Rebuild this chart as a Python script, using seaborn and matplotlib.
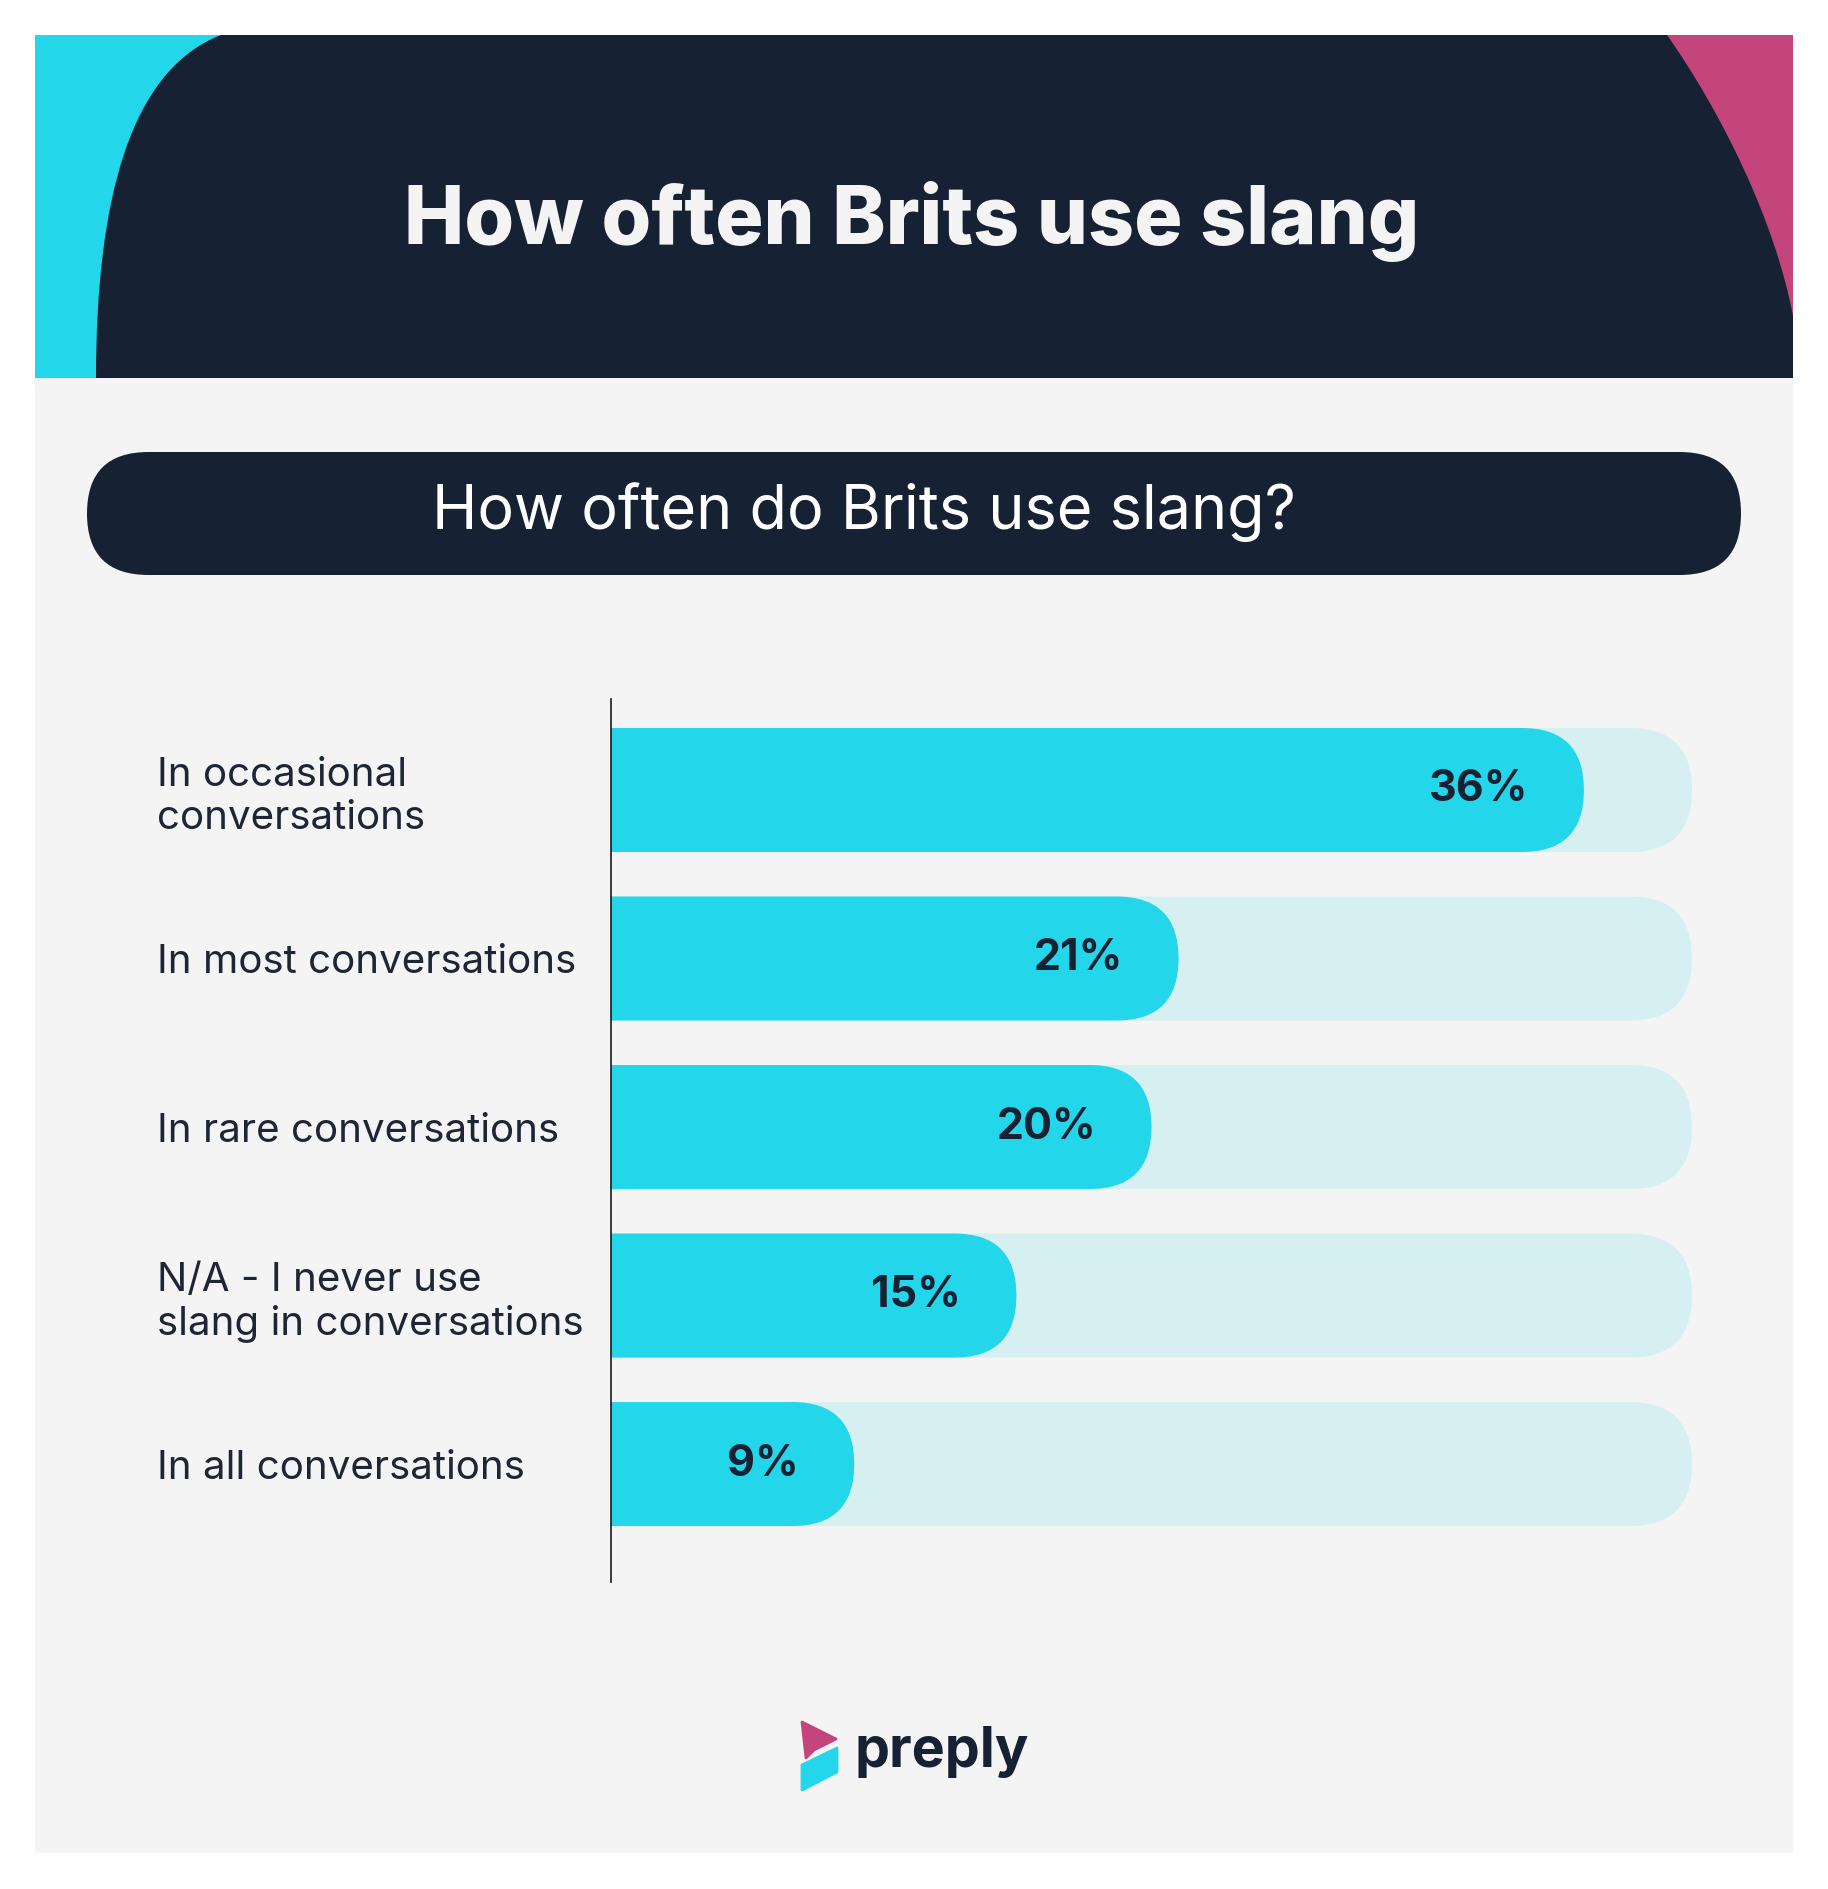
import numpy as np
import pandas as pd
import matplotlib
matplotlib.use("Agg")
import matplotlib.pyplot as plt
import seaborn as sns
from matplotlib.patches import FancyBboxPatch, Rectangle, PathPatch, Polygon
from matplotlib.path import Path

# ---------------- data ----------------
categories = [
    "In occasional\nconversations",
    "In most conversations",
    "In rare conversations",
    "N/A - I never use\nslang in conversations",
    "In all conversations",
]
values = [36, 21, 20, 15, 9]
value_labels = ["36%", "21%", "20%", "15%", "9%"]
track_max = 40

title = "How often Brits use slang"
subtitle = "How often do Brits use slang?"
brand = "preply"

# ---------------- style ----------------
NAVY = "#162133"
CYAN = "#24D6EA"
PINK = "#C4457C"
TRACK = "#D6F0F2"
CARD = "#F4F4F4"

sns.set_theme(style="white")
plt.rcParams["font.family"] = ["Inter", "DejaVu Sans"]

W, H = 1828, 1889
fig = plt.figure(figsize=(W / 100, H / 100), dpi=100)
fig.patch.set_facecolor("white")

# background / decoration axes in pixel coordinates
bg = fig.add_axes([0, 0, 1, 1], zorder=0)
bg.set_xlim(0, W)
bg.set_ylim(H, 0)
bg.axis("off")

bg.add_patch(Rectangle((35, 35), 1758, 1818, fc=CARD, ec="none"))
bg.add_patch(Rectangle((35, 35), 1758, 343, fc=CYAN, ec="none"))
bg.add_patch(Rectangle((1600, 35), 193, 343, fc=PINK, ec="none"))
verts = [(96, 378), (96, 200), (130, 70), (221, 35),
         (1667, 35),
         (1720, 110), (1775, 220), (1793, 316),
         (1793, 378), (96, 378)]
codes = [Path.MOVETO, Path.CURVE4, Path.CURVE4, Path.CURVE4,
         Path.LINETO,
         Path.CURVE4, Path.CURVE4, Path.CURVE4,
         Path.LINETO, Path.CLOSEPOLY]
bg.add_patch(PathPatch(Path(verts, codes), fc=NAVY, ec="none"))

bg.text(912, 222, title, ha="center", va="center", color="#F4F4F4",
        fontsize=58, fontweight="heavy")

bg.add_patch(FancyBboxPatch((87, 452), 1654, 123,
                            boxstyle="round,pad=0,rounding_size=61.5",
                            fc=NAVY, ec="none"))
bg.text(864, 512, subtitle, ha="center", va="center", color="white",
        fontsize=44)

# logo
bg.add_patch(Polygon([(802, 1722), (836, 1739), (814, 1750), (806, 1758)],
                     closed=True, fc=PINK, ec=PINK, lw=2, joinstyle="round"))
bg.add_patch(Polygon([(802, 1765), (837, 1748), (837, 1772), (802, 1790)],
                     closed=True, fc=CYAN, ec=CYAN, lw=2, joinstyle="round"))
bg.text(855, 1752, brand, ha="left", va="center", color=NAVY,
        fontsize=40, fontweight="bold")

# ---------------- chart ----------------
ax_l, ax_r, ax_t, ax_b = 611, 1692, 699, 1582
ax = fig.add_axes([ax_l / W, 1 - ax_b / H, (ax_r - ax_l) / W, (ax_b - ax_t) / H],
                  zorder=2)
ax.set_facecolor("none")

df = pd.DataFrame({"category": categories, "value": values,
                   "track": [track_max] * len(categories)})
BAR_W = 0.736

sns.barplot(data=df, x="track", y="category", orient="h", color=TRACK,
            saturation=1, width=BAR_W, ax=ax)
track_patches = list(ax.patches)
sns.barplot(data=df, x="value", y="category", orient="h", color=CYAN,
            saturation=1, width=BAR_W, ax=ax)
value_patches = [p for p in ax.patches if p not in track_patches]

ylim = (4.70, -0.54)
ax.set_xlim(0, track_max)
ax.set_ylim(*ylim)

px_per_x = (ax_r - ax_l) / track_max
px_per_y = (ax_b - ax_t) / (ylim[0] - ylim[1])
ry = BAR_W / 2
rx = ry * px_per_y / px_per_x


def round_bar(p, color, z):
    x, y, w, h = p.get_x(), p.get_y(), p.get_width(), p.get_height()
    p.remove()
    fb = FancyBboxPatch((x - rx, y), w + rx, h,
                        boxstyle=f"round,pad=0,rounding_size={rx}",
                        mutation_aspect=ry / rx, fc=color, ec="none", lw=0,
                        zorder=z)
    ax.add_patch(fb)


for p in track_patches:
    round_bar(p, TRACK, 1)
for p in value_patches:
    round_bar(p, CYAN, 2)

for i, (v, lbl) in enumerate(zip(values, value_labels)):
    ax.annotate(lbl, xy=(v, i), xytext=(-40, 0), textcoords="offset points",
                ha="right", va="center", fontsize=31, fontweight="bold",
                color=NAVY, zorder=3)

ax.set_xlabel("")
ax.set_ylabel("")
ax.set_xticks([])
ax.set_yticks(range(len(categories)))
ax.set_yticklabels(categories, ha="left", fontsize=29, color="#1E2535")
for t in ax.get_yticklabels():
    t.set_linespacing(1.2)
ax.tick_params(axis="y", length=0, pad=(ax_l - 157) * 72 / 100)
for s in ["top", "right", "bottom"]:
    ax.spines[s].set_visible(False)
ax.spines["left"].set_color("#1a1a1a")
ax.spines["left"].set_linewidth(1.2)
ax.spines["left"].set_zorder(5)

fig.savefig("out.png", dpi=100, facecolor="white")
